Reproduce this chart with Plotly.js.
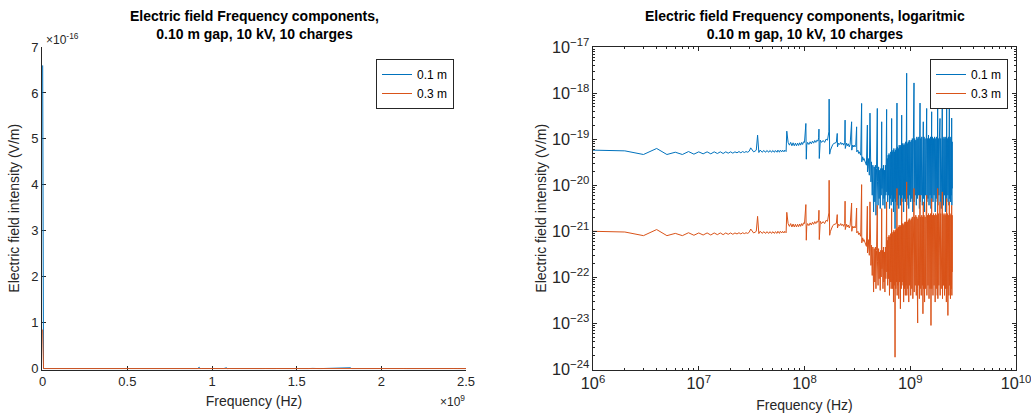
<!DOCTYPE html>
<html>
<head>
<meta charset="utf-8">
<script src="https://cdn.plot.ly/plotly-3.0.1.min.js"></script>
<style>html,body{margin:0;padding:0;background:#fff;}#chart{width:1031px;height:417px;}</style>
</head>
<body>
<div id="chart"></div>
<script>
// ---------------- data ----------------
const seriesNames = ['0.1 m', '0.3 m'];
const seriesColors = ['#0072BD', '#D95319'];

// DC component (frequency 0) of each series, V/m
const dcField01 = 6.6e-16;
const dcField03 = 0.85e-16;

// sampled frequencies in MHz
const freqMHz = [
  1,2,3,4,5,6,7,8,9,10,
  11,12,13,14,15,16,17,18,19,20,
  21,22,23,24,25,26,27,28,29,30,
  31,32,33,34,35,36,37,38,40,41,
  43,44,46,47,49,50,52,53,55,56,
  58,59,61,62,64,65,67,68,69,70,
  72,74,76,78,80,82,84,86,88,90,
  92,94,96,98,100,103,104,105,107,110,
  113,116,119,122,125,128,131,134,136,137,
  138,139,141,145,150,155,160,165,168,170,
  171,173,176,180,185,190,195,200,204,205,
  210,215,220,225,230,235,240,242,243,250,
  255,260,265,270,279,280,285,290,295,300,
  305,311,312,320,325,330,340,347,348,355,
  360,365,375,385,393,394,
  400,405,410,416,418,425,430,437,443,450,
  456,462,468,474,480,488,490,496,502,508,
  514,520,526,531,537,540,546,552,558,564,
  570,576,582,588,594,598,600,606,612,618,
  624,630,636,642,648,654,660,667,670,676,
  682,688,694,700,706,712,718,724,730,736,
  742,749,752,758,765,772,779,786,793,800,
  807,814,822,830,834,842,850,858,866,874,
  882,890,898,906,914,925,928,938,948,958,
  968,978,988,998,1010,1022,1034,1046,1058,1070,
  1085,1090,1102,1115,1128,1141,1154,1167,1175,1180,
  1193,1206,1220,1237,1242,1256,1270,1285,1300,1314,
  1318,1329,1335,1350,1366,1382,1398,1414,1430,1437,
  1454,1471,1488,1505,1522,1540,1557,1570,1594,1600,
  1620,1640,1660,1680,1700,1720,1740,1760,1780,1800,
  1817,1825,1845,1865,1888,1911,1918,1940,1962,1985,
  2011,2018,2040,2062,2085,2108,2130,2150,2172,2195,
  2210,2220,2245,2270,2295,2320,2342,2350,2375,2400,
  2425,2450,2465,2475,2490,2500
];

// electric field, 0.1 m (V/m)
const field01 = [
  5.77e-20,5.57e-20,4.64e-20,6.27e-20,4.64e-20,5.2e-20,4.64e-20,5.38e-20,4.72e-20,5.3e-20,
  4.8e-20,5.3e-20,4.8e-20,5.3e-20,4.88e-20,5.3e-20,4.88e-20,5.3e-20,4.96e-20,5.3e-20,
  4.96e-20,5.3e-20,5.05e-20,5.38e-20,5.05e-20,5.38e-20,5.13e-20,5.38e-20,5.2e-20,5.47e-20,
  6.47e-20,5.67e-20,5.3e-20,5.47e-20,5.77e-20,1.22e-19,5.13e-20,5.77e-20,5.2e-20,5.67e-20,
  5.2e-20,5.67e-20,5.2e-20,5.67e-20,5.2e-20,5.67e-20,5.2e-20,5.67e-20,5.2e-20,5.77e-20,
  5.2e-20,5.77e-20,5.3e-20,5.77e-20,5.3e-20,5.77e-20,5.38e-20,1.49e-19,9.5e-20,8.5e-20,
  7.41e-20,8.5e-20,7.17e-20,8.32e-20,7.17e-20,8.18e-20,7.17e-20,8.18e-20,7.29e-20,8.32e-20,
  7.41e-20,8.5e-20,7.66e-20,8.75e-20,8.5e-20,2.19e-19,3.67e-20,7.41e-20,8.5e-20,7.66e-20,
  8.75e-20,7.92e-20,9.05e-20,8.18e-20,9.35e-20,8.5e-20,9.5e-20,9.05e-20,1.07e-19,1.65e-19,
  3.8e-20,8.5e-20,9.5e-20,8.5e-20,9.35e-20,8.5e-20,1.0e-19,9.5e-20,1.12e-19,1.44e-19,
  7.4e-19,4.72e-20,5.77e-20,6.8e-20,7.66e-20,8.05e-20,8.32e-20,8.5e-20,1.33e-19,6.8e-20,
  8.18e-20,7.66e-20,8.5e-20,7.66e-20,8.18e-20,7.41e-20,8.5e-20,2.59e-19,6.27e-20,8.18e-20,
  7.17e-20,7.92e-20,6.8e-20,7.66e-20,2.38e-19,5.77e-20,7.41e-20,6.8e-20,7.41e-20,6.8e-20,
  7.17e-20,1.85e-19,5.3e-20,5.77e-20,4.9e-20,5.3e-20,4.49e-20,5.96e-19,3.21e-20,4.13e-20,
  3.49e-20,3.8e-20,3.21e-20,2.72e-20,2.02e-19,1.95e-20,
  2.5e-20,3.8e-20,1.65e-20,3.67e-19,2.3e-20,1.18e-20,3.21e-20,6.07e-21,2.72e-20,2.63e-21,
  2.5e-20,4.35e-21,2.72e-20,2.23e-21,2.3e-20,4.64e-19,1.18e-20,3.67e-21,2.5e-20,5.13e-21,
  2.12e-20,3.11e-21,2.3e-20,6.07e-21,2.38e-19,8.5e-21,2.3e-20,3.67e-21,2.72e-20,5.13e-21,
  2.12e-20,3.11e-21,2.72e-20,6.07e-21,3.21e-20,4.42e-19,7.16e-21,3.8e-20,4.35e-21,4.49e-20,
  6.07e-21,4.88e-20,3.11e-21,4.49e-20,5.13e-21,5.3e-20,3.67e-21,2.81e-19,6.07e-21,5.3e-20,
  4.35e-21,5.77e-20,2.63e-21,6.27e-20,5.13e-21,5.3e-20,1.14e-21,5.77e-20,4.35e-21,6.27e-20,
  6.07e-21,6.07e-19,3.67e-21,6.8e-20,5.13e-21,6.27e-20,3.11e-21,7.41e-20,6.07e-21,6.8e-20,
  3.67e-21,7.41e-20,5.13e-21,3.32e-19,4.35e-21,8.05e-20,6.07e-21,7.41e-20,2.63e-21,8.05e-20,
  5.13e-21,7.41e-20,4.35e-21,8.75e-20,6.07e-21,2.7e-18,3.67e-21,8.05e-20,5.13e-21,8.75e-20,
  3.11e-21,9.5e-20,6.07e-21,8.75e-20,4.35e-21,9.5e-20,5.13e-21,1.03e-19,2.63e-21,9.5e-20,
  1.66e-18,4.35e-21,1.03e-19,6.07e-21,9.5e-20,3.67e-21,1.12e-19,5.13e-21,8.75e-20,1.03e-19,
  6.07e-21,1.12e-19,3.11e-21,6.07e-19,4.35e-21,1.03e-19,6.07e-21,1.12e-19,3.67e-21,1.03e-19,
  5.13e-21,2.38e-19,5.13e-21,1.12e-19,2.63e-21,1.03e-19,6.07e-21,1.12e-19,4.64e-19,4.35e-21,
  1.03e-19,5.13e-21,1.22e-19,3.67e-21,1.03e-19,6.07e-21,1.12e-19,3.11e-21,3.93e-19,5.13e-21,
  1.12e-19,4.35e-21,1.03e-19,6.07e-21,1.12e-19,2.63e-21,1.03e-19,5.13e-21,1.12e-19,4.35e-21,
  1.68e-18,3.67e-21,1.03e-19,6.07e-21,1.12e-19,2.81e-19,4.35e-21,1.03e-19,3.11e-21,1.12e-19,
  1.02e-18,5.13e-21,1.03e-19,3.67e-21,1.12e-19,6.07e-21,1.03e-19,2.63e-21,1.12e-19,5.13e-21,
  6.07e-19,4.35e-21,1.03e-19,6.07e-21,1.12e-19,3.67e-21,6.48e-19,5.13e-21,1.03e-19,4.35e-21,
  1.12e-19,6.07e-21,2.86e-19,3.67e-21,8.75e-20,8.5e-21
];

// electric field, 0.3 m (V/m)
const field03 = [
  1.0e-21,9.65e-22,8.04e-22,1.09e-21,8.04e-22,9.0e-22,8.04e-22,9.3e-22,8.2e-22,9.2e-22,
  8.3e-22,9.2e-22,8.3e-22,9.2e-22,8.45e-22,9.2e-22,8.45e-22,9.2e-22,8.6e-22,9.2e-22,
  8.6e-22,9.2e-22,8.75e-22,9.3e-22,8.75e-22,9.3e-22,8.9e-22,9.3e-22,9.0e-22,9.5e-22,
  1.12e-21,9.8e-22,9.2e-22,9.5e-22,1.0e-21,2.11e-21,8.9e-22,1.0e-21,9.0e-22,9.8e-22,
  9.0e-22,9.8e-22,9.0e-22,9.8e-22,9.0e-22,9.8e-22,9.0e-22,9.8e-22,9.0e-22,1.0e-21,
  9.0e-22,1.0e-21,9.2e-22,1.0e-21,9.2e-22,1.0e-21,9.3e-22,2.58e-21,1.65e-21,1.47e-21,
  1.28e-21,1.47e-21,1.24e-21,1.44e-21,1.24e-21,1.42e-21,1.24e-21,1.42e-21,1.26e-21,1.44e-21,
  1.28e-21,1.47e-21,1.33e-21,1.52e-21,1.47e-21,3.8e-21,6.4e-22,1.28e-21,1.47e-21,1.33e-21,
  1.52e-21,1.37e-21,1.57e-21,1.42e-21,1.62e-21,1.47e-21,1.65e-21,1.57e-21,1.85e-21,2.86e-21,
  6.6e-22,1.47e-21,1.65e-21,1.47e-21,1.62e-21,1.47e-21,1.73e-21,1.65e-21,1.95e-21,2.5e-21,
  1.28e-20,8.2e-22,1.0e-21,1.18e-21,1.33e-21,1.4e-21,1.44e-21,1.47e-21,2.3e-21,1.18e-21,
  1.42e-21,1.33e-21,1.47e-21,1.33e-21,1.42e-21,1.28e-21,1.47e-21,4.5e-21,1.09e-21,1.42e-21,
  1.24e-21,1.37e-21,1.18e-21,1.33e-21,4.1e-21,1.0e-21,1.28e-21,1.18e-21,1.28e-21,1.18e-21,
  1.24e-21,3.2e-21,9.2e-22,1.0e-21,8.5e-22,9.2e-22,7.8e-22,1.03e-20,5.6e-22,7.2e-22,
  6.05e-22,6.6e-22,5.6e-22,4.7e-22,3.5e-21,3.4e-22,
  4.34e-22,6.59e-22,3.01e-22,4.35e-21,3.86e-22,1.82e-22,4.96e-22,1.1e-22,4.56e-22,4.8e-23,
  4.2e-22,7.92e-23,4.56e-22,5.67e-23,3.86e-22,3.67e-21,2.16e-22,6.7e-23,4.2e-22,9.35e-23,
  3.56e-22,5.21e-23,3.86e-22,1.02e-22,3.11e-21,1.54e-22,3.86e-22,5.67e-23,4.56e-22,7.92e-23,
  3.56e-22,4.8e-23,4.56e-22,9.35e-23,5.39e-22,4.35e-21,1.31e-22,6.37e-22,6.7e-23,7.53e-22,
  9.35e-23,8.18e-22,4.06e-23,7.53e-22,7.92e-23,8.9e-22,5.67e-23,3.11e-21,7.92e-23,8.9e-22,
  5.67e-23,9.68e-22,2.91e-23,1.05e-21,6.7e-23,9.68e-22,1.85e-24,1.05e-21,5.67e-23,1.14e-21,
  7.92e-23,8.5e-21,4.06e-23,1.14e-21,6.7e-23,1.24e-21,3.44e-23,1.35e-21,7.92e-23,1.24e-21,
  2.08e-23,1.35e-21,5.67e-23,5.13e-21,6.7e-23,1.47e-21,7.92e-23,1.35e-21,2.91e-23,1.47e-21,
  5.67e-23,1.6e-21,4.06e-23,1.6e-21,6.7e-23,1.18e-20,4.06e-23,1.6e-21,5.67e-23,1.73e-21,
  2.91e-23,1.88e-21,6.7e-23,1.73e-21,4.06e-23,1.88e-21,5.67e-23,2.05e-21,3.44e-23,1.88e-21,
  8.5e-21,4.8e-23,2.05e-21,6.7e-23,2.23e-21,4.06e-23,2.05e-21,5.67e-23,1.02e-23,1.88e-21,
  6.7e-23,2.23e-21,3.44e-23,6.07e-21,5.67e-23,2.05e-21,4.06e-23,2.23e-21,6.7e-23,2.05e-21,
  1.62e-23,4.35e-21,5.67e-23,2.23e-21,2.91e-23,2.05e-21,5.67e-23,2.23e-21,6.07e-21,4.06e-23,
  2.23e-21,6.7e-23,2.42e-21,3.44e-23,2.23e-21,5.67e-23,2.42e-21,9.05e-24,5.13e-21,5.67e-23,
  2.23e-21,4.06e-23,2.42e-21,6.7e-23,2.23e-21,2.91e-23,2.42e-21,5.67e-23,2.23e-21,4.06e-23,
  8.5e-21,3.44e-23,2.42e-21,6.7e-23,2.23e-21,4.35e-21,4.06e-23,2.42e-21,5.67e-23,2.23e-21,
  7.16e-21,3.44e-23,2.42e-21,6.7e-23,2.23e-21,4.06e-23,2.42e-21,5.67e-23,2.23e-21,2.91e-23,
  5.13e-21,5.67e-23,2.42e-21,1.49e-23,2.23e-21,4.06e-23,4.35e-21,6.7e-23,2.42e-21,3.44e-23,
  2.23e-21,5.67e-23,3.67e-21,4.06e-23,2.23e-21,1.31e-22
];

// tick labels
const linXTickVals = [0, 0.5e9, 1e9, 1.5e9, 2e9, 2.5e9];
const linXTickText = ['0', '0.5', '1', '1.5', '2', '2.5'];
const linYTickVals = [0, 1e-16, 2e-16, 3e-16, 4e-16, 5e-16, 6e-16, 7e-16];
const linYTickText = ['0', '1', '2', '3', '4', '5', '6', '7'];

const titleLeft = 'Electric field Frequency components,<br>0.10 m gap, 10 kV, 10 charges';
const titleRight = 'Electric field Frequency components, logaritmic<br>0.10 m gap, 10 kV, 10 charges';
const xLabel = 'Frequency (Hz)';
const yLabel = 'Electric field intensity (V/m)';

// ---------------- build ----------------
const freqHz = freqMHz.map(f => f * 1e6);
const freqHzWithDC = [0].concat(freqHz);
const field01WithDC = [dcField01].concat(field01);
const field03WithDC = [dcField03].concat(field03);

const W = 1031, H = 417;
const px = v => v / W;
const py = v => (H - v) / H;
const ax = '#262626';
const fontFam = 'Liberation Sans, Arial, Helvetica, sans-serif';

const traces = [
  {x: freqHzWithDC, y: field01WithDC, xaxis: 'x', yaxis: 'y', type: 'scatter', mode: 'lines',
   name: seriesNames[0], line: {color: seriesColors[0], width: 1}, legend: 'legend'},
  {x: freqHzWithDC, y: field03WithDC, xaxis: 'x', yaxis: 'y', type: 'scatter', mode: 'lines',
   name: seriesNames[1], line: {color: seriesColors[1], width: 1}, legend: 'legend'},
  {x: freqHz, y: field01, xaxis: 'x2', yaxis: 'y2', type: 'scatter', mode: 'lines',
   name: seriesNames[0], line: {color: seriesColors[0], width: 1}, legend: 'legend2'},
  {x: freqHz, y: field03, xaxis: 'x2', yaxis: 'y2', type: 'scatter', mode: 'lines',
   name: seriesNames[1], line: {color: seriesColors[1], width: 1}, legend: 'legend2'}
];

const yDom = [py(369.5), py(47)];
const titleFont = {family: fontFam, size: 14, color: ax};
const baseAxis = {
  showgrid: false, zeroline: false, showline: true, linecolor: ax, linewidth: 1,
  ticks: 'inside', tickcolor: ax, ticklen: 4, tickwidth: 1,
  tickfont: {family: fontFam, size: 13, color: ax}, automargin: false,
  ticklabeloverflow: 'allow'
};

const legendBase = {
  bordercolor: ax, borderwidth: 1, bgcolor: '#ffffff',
  font: {family: fontFam, size: 12, color: '#000'},
  xanchor: 'right', yanchor: 'top', tracegroupgap: 0
};

const layout = {
  width: W, height: H,
  margin: {l: 0, r: 0, t: 0, b: 0},
  paper_bgcolor: '#ffffff', plot_bgcolor: '#ffffff',
  font: {family: fontFam, size: 12, color: ax},
  showlegend: true,
  xaxis: Object.assign({}, baseAxis, {
    domain: [px(42), px(466)], anchor: 'y', range: [-4e6, 2.5e9],
    tickmode: 'array', tickvals: linXTickVals, ticktext: linXTickText, layer: 'below traces',
    title: {text: xLabel, font: titleFont, standoff: 8}
  }),
  yaxis: Object.assign({}, baseAxis, {
    domain: yDom, anchor: 'x', range: [-0.02e-16, 7e-16],
    tickmode: 'array', tickvals: linYTickVals, ticktext: linYTickText, layer: 'below traces',
    title: {text: yLabel, font: titleFont, standoff: 8}
  }),
  xaxis2: Object.assign({}, baseAxis, {
    domain: [px(593), px(1016)], anchor: 'y2', type: 'log', range: [6, 10],
    dtick: 1, exponentformat: 'power', mirror: 'allticks',
    minor: {ticks: 'inside', ticklen: 2, tickcolor: ax, showgrid: false},
    title: {text: xLabel, font: titleFont, standoff: 8}
  }),
  yaxis2: Object.assign({}, baseAxis, {
    domain: yDom, anchor: 'x2', type: 'log', range: [-24, -17],
    dtick: 1, exponentformat: 'power', mirror: 'allticks',
    minor: {ticks: 'inside', ticklen: 2, tickcolor: ax, showgrid: false},
    title: {text: yLabel, font: titleFont, standoff: 2}
  }),
  legend: Object.assign({}, legendBase, {x: px(454), y: py(59)}),
  legend2: Object.assign({}, legendBase, {x: px(1008), y: py(59)}),
  annotations: [
    {text: '<b>' + titleLeft + '</b>', xref: 'paper', yref: 'paper', x: px(254), y: py(25),
     xanchor: 'center', yanchor: 'middle', showarrow: false,
     font: {family: fontFam, size: 14, color: '#000'}},
    {text: '<b>' + titleRight + '</b>', xref: 'paper', yref: 'paper', x: px(804.5), y: py(25),
     xanchor: 'center', yanchor: 'middle', showarrow: false,
     font: {family: fontFam, size: 14, color: '#000'}},
    {text: '×10<sup>-16</sup>', xref: 'paper', yref: 'paper', x: px(44), y: py(39),
     xanchor: 'left', yanchor: 'middle', showarrow: false,
     font: {family: fontFam, size: 12, color: ax}},
    {text: '×10<sup>9</sup>', xref: 'paper', yref: 'paper', x: px(467), y: py(401),
     xanchor: 'right', yanchor: 'middle', showarrow: false,
     font: {family: fontFam, size: 12, color: ax}}
  ]
};

Plotly.newPlot('chart', traces, layout, {displayModeBar: false, staticPlot: true});
</script>
</body>
</html>
